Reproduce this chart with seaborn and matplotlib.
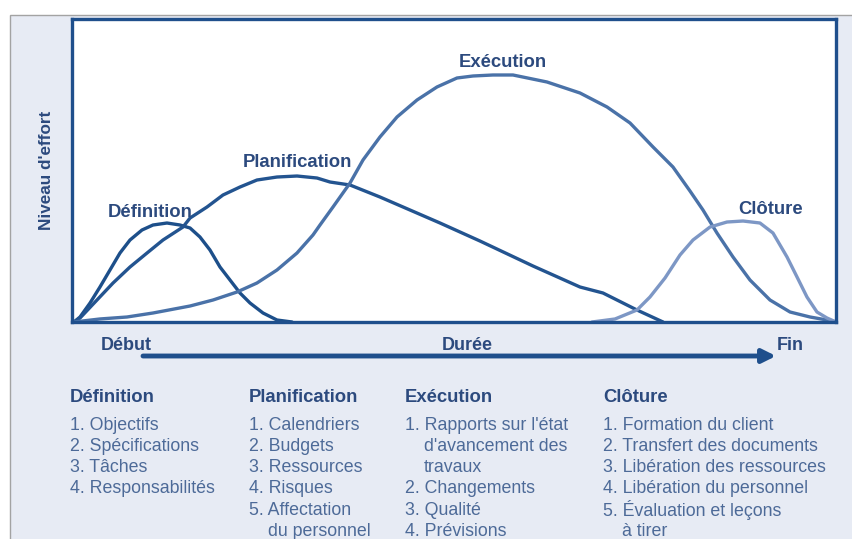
import matplotlib
matplotlib.use("Agg")
import numpy as np
import pandas as pd
import matplotlib.pyplot as plt
import seaborn as sns
from matplotlib.patches import Rectangle

# effort curves (duree 0-100, effort 0-100)
definition_t = [0.26, 1.05, 2.36, 3.66, 4.97, 6.28, 7.59, 9.16, 10.60, 12.43, 14.14, 15.45,
                16.75, 18.06, 19.37, 20.68, 21.99, 23.30, 25.0, 26.83, 28.80]
definition_e = [0, 1.65, 6.27, 11.55, 17.16, 22.77, 27.06, 30.36, 32.01, 32.67, 32.01, 31.02,
                28.05, 23.76, 18.15, 13.86, 9.57, 6.27, 2.97, 0.66, 0]

planif_t = [0.26, 1.05, 3.27, 5.37, 7.59, 9.82, 11.91, 14.53, 15.45, 17.67, 19.76, 21.99,
            24.21, 26.83, 29.45, 32.07, 33.77, 36.39, 40.31, 44.24, 48.17, 53.40, 60.34,
            66.49, 69.50, 73.95, 77.36]
planif_e = [0, 1.32, 7.26, 12.87, 18.15, 22.77, 27.06, 31.35, 34.32, 37.95, 41.91, 44.55,
            46.86, 47.85, 48.18, 47.52, 46.20, 45.21, 41.25, 36.96, 32.67, 26.73, 18.48,
            11.55, 9.57, 3.96, 0]

execution_t = [0.26, 3.66, 7.20, 10.60, 15.45, 18.46, 21.60, 24.21, 26.83, 29.45, 31.54,
               32.46, 34.16, 36.39, 38.09, 40.31, 42.54, 45.16, 47.77, 50.39, 52.49, 55.10,
               57.72, 62.17, 66.49, 70.03, 73.04, 76.05, 78.66, 80.89, 82.59, 84.42, 86.52,
               88.74, 91.36, 93.98, 96.60, 98.82, 100]
execution_e = [0, 1.0, 1.65, 2.97, 5.28, 7.26, 9.90, 12.87, 17.16, 22.77, 28.71,
               32.01, 37.95, 45.87, 53.47, 61.06, 67.66, 73.27, 77.56, 80.53, 81.19, 81.52,
               81.52, 79.21, 75.58, 70.96, 65.68, 57.76, 51.16, 43.23, 36.96, 29.37, 21.45,
               13.86, 7.26, 3.30, 1.65, 0.66, 0]

cloture_t = [68.06, 71.07, 73.95, 75.65, 77.62, 79.58, 81.28, 83.51, 85.73, 87.83, 90.05,
             91.75, 93.59, 94.90, 96.20, 97.51, 98.82, 100]
cloture_e = [0, 0.99, 3.96, 8.25, 14.52, 22.11, 27.06, 31.35, 33.00, 33.33, 32.67,
             29.37, 21.45, 14.85, 8.25, 3.30, 1.32, 0]

phases = ["Définition", "Planification", "Exécution", "Clôture"]
curve_colors = ["#1d4f8a", "#235490", "#4a72a8", "#7d97c5"]

# phase details listed under the chart
details = [
    ["Objectifs", "Spécifications", "Tâches", "Responsabilités"],
    ["Calendriers", "Budgets", "Ressources", "Risques", "Affectation\ndu personnel"],
    ["Rapports sur l'état\nd'avancement des\ntravaux", "Changements", "Qualité", "Prévisions"],
    ["Formation du client", "Transfert des documents", "Libération des ressources",
     "Libération du personnel", "Évaluation et leçons\nà tirer"],
]

frames = []
for name, t, e in [(phases[0], definition_t, definition_e),
                   (phases[1], planif_t, planif_e),
                   (phases[2], execution_t, execution_e),
                   (phases[3], cloture_t, cloture_e)]:
    frames.append(pd.DataFrame({"phase": name, "duree": t, "effort": e}))
df = pd.concat(frames, ignore_index=True)

W, H = 853, 539
navy = "#1f4f8c"
head_col = "#2c4a7e"
item_col = "#4d6a98"


def fp(x, y):
    # pixel position (from top-left) -> figure fraction
    return x / W, 1 - y / H


sns.set_style("white")
plt.rcParams["font.family"] = ["Liberation Sans", "DejaVu Sans"]

fig = plt.figure(figsize=(W / 100, H / 100), dpi=100, facecolor="white")
fig.patches.append(Rectangle((10 / W, -0.01), 1, (H - 15) / H + 0.01, transform=fig.transFigure,
                             facecolor="#e7ebf4", edgecolor="#a3a3a3", lw=1, zorder=-5))

ax = fig.add_axes([72 / W, 1 - 322 / H, 764 / W, 303 / H])
ax.set_facecolor("white")
sns.lineplot(data=df, x="duree", y="effort", hue="phase", palette=dict(zip(phases, curve_colors)),
             estimator=None, sort=False, legend=False, lw=2.4, ax=ax)
for ln in ax.get_lines():
    ln.set_solid_capstyle("round")
    ln.set_solid_joinstyle("round")

ax.set_xlim(0, 100)
ax.set_ylim(0, 100)
ax.set_xticks([])
ax.set_yticks([])
ax.set_xlabel("")
ax.set_ylabel("")
for s in ax.spines.values():
    s.set_visible(True)
    s.set_color(navy)
    s.set_linewidth(2.4)

# phase names on the curves
label_pos = [(10.2, 36.3), (29.5, 52.5), (56.4, 85.5), (91.4, 37.0)]
for name, (lx, ly) in zip(phases, label_pos):
    ax.text(lx, ly, name, ha="center", va="center", fontsize=13.3, fontweight="bold", color=head_col)

fig.text(*fp(47, 170), "Niveau d'effort", rotation=90, ha="center", va="center",
         fontsize=12.3, fontweight="bold", color=head_col)

# time arrow
ax.annotate("", xy=fp(776, 356), xytext=fp(143, 356), xycoords="figure fraction",
            textcoords="figure fraction", annotation_clip=False,
            arrowprops=dict(arrowstyle="-|>", color=navy, lw=3.5, mutation_scale=20,
                            shrinkA=0, shrinkB=0))
fig.text(*fp(126, 345), "Début", ha="center", va="center", fontsize=13, fontweight="bold", color=head_col)
fig.text(*fp(467, 345), "Durée", ha="center", va="center", fontsize=13, fontweight="bold", color=head_col)
fig.text(*fp(790, 345), "Fin", ha="center", va="center", fontsize=13, fontweight="bold", color=head_col)

# columns of details
col_x = [70, 249, 405, 603]
for cx, title, items in zip(col_x, phases, details):
    fig.text(*fp(cx, 398), title, ha="left", va="center", fontsize=13.3, fontweight="bold", color=head_col)
    row = 0
    for k, item in enumerate(items):
        for j, part in enumerate(item.split("\n")):
            y = 425 + 21.3 * row
            if j == 0:
                fig.text(*fp(cx, y), f"{k + 1}. {part}", ha="left", va="center", fontsize=12.8, color=item_col)
            else:
                fig.text(*fp(cx + 19, y), part, ha="left", va="center", fontsize=12.8, color=item_col)
            row += 1

fig.savefig("out.png", dpi=100, facecolor=fig.get_facecolor())
